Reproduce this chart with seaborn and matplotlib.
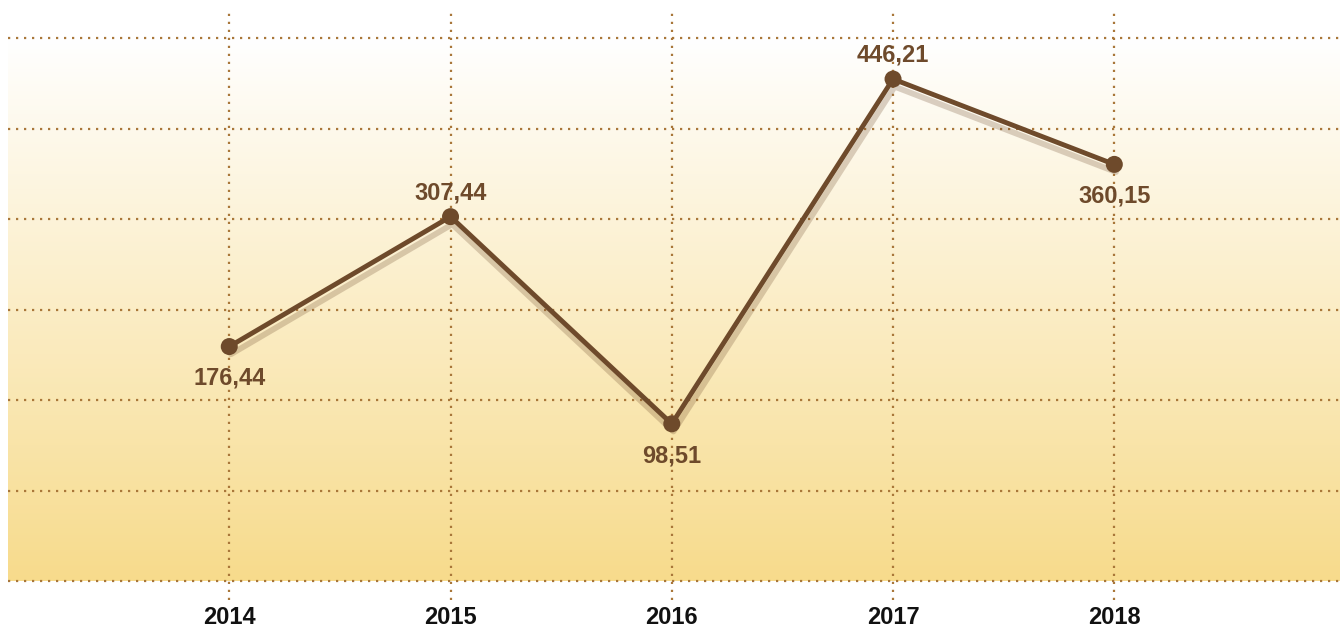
import numpy as np
import pandas as pd
import matplotlib
matplotlib.use('Agg')
import matplotlib.pyplot as plt
import matplotlib.patheffects as pe
import matplotlib.transforms as mtrans
from matplotlib import font_manager as fm
from matplotlib.colors import LinearSegmentedColormap
import seaborn as sns

# ---- data ----
years = ['2014', '2015', '2016', '2017', '2018']
values = [176.44, 307.44, 98.51, 446.21, 360.15]
value_labels = ['176,44', '307,44', '98,51', '446,21', '360,15']
label_above = [False, True, False, True, False]

# ---- style ----
sns.set_theme(style='white')
names = {f.name for f in fm.fontManager.ttflist}
fam = 'Liberation Sans Narrow' if 'Liberation Sans Narrow' in names else 'Liberation Sans'
plt.rcParams['font.family'] = [fam, 'DejaVu Sans']

BROWN = '#6E4A2B'
GRID = '#A9773A'
BOTTOM_BG = '#F7DB8C'

df = pd.DataFrame({'x': np.arange(len(years)), 'value': values})

fig = plt.figure(figsize=(13.4, 6.33), dpi=100)
fig.patch.set_facecolor('white')
ax = fig.add_axes([8 / 1340, 52 / 633, 1 - 8 / 1340, 543 / 633])

ymin, ymax = -60, 487.6
xmin, xmax = -1, 5.02
ax.set_xlim(xmin, xmax)
ax.set_ylim(ymin, ymax)

# gradient background
cmap = LinearSegmentedColormap.from_list('bg', [BOTTOM_BG, '#FFFFFF'])
grad = np.linspace(0, 1, 256).reshape(-1, 1)
ax.imshow(grad, cmap=cmap, origin='lower', aspect='auto',
          extent=(xmin, xmax, ymin, ymax), zorder=0)

for s in ax.spines.values():
    s.set_visible(False)
ax.set_xticks([])
ax.set_yticks([])

dot = (0, (1, 2.6))
for yv in np.linspace(ymin, ymax, 7):
    ax.axhline(yv, color=GRID, lw=1.6, ls=dot, dash_capstyle='butt',
               clip_on=False, zorder=1)
for xv in df['x']:
    ax.axvline(xv, ymin=-19 / 543, ymax=(581 - 12) / 543, color=GRID, lw=1.6,
               ls=dot, dash_capstyle='butt', clip_on=False, zorder=1)

# line with shadow
sns.lineplot(data=df, x='x', y='value', ax=ax, color=BROWN, lw=3.5, zorder=3,
             path_effects=[pe.SimpleLineShadow(offset=(1.2, -5.5), shadow_color=BROWN,
                                               alpha=0.25, linewidth=4.2), pe.Normal()])
sns.scatterplot(data=df, x='x', y='value', ax=ax, color=BROWN, s=150,
                edgecolor='none', linewidth=0, zorder=4)
ax.set_xlabel('')
ax.set_ylabel('')

for xv, v, lab, above in zip(df['x'], values, value_labels, label_above):
    ax.annotate(lab, (xv, v), xytext=(0, 17 if above else -23),
                textcoords='offset points', ha='center', va='center',
                fontsize=17, fontweight='bold', color=BROWN, zorder=5)

trans = mtrans.blended_transform_factory(ax.transData, ax.transAxes)
for xv, yr in zip(df['x'], years):
    ax.text(xv, -37 / 543, yr, transform=trans, ha='center', va='center',
            fontsize=17, fontweight='bold', color='#111111')

fig.savefig('out.png', dpi=100)
